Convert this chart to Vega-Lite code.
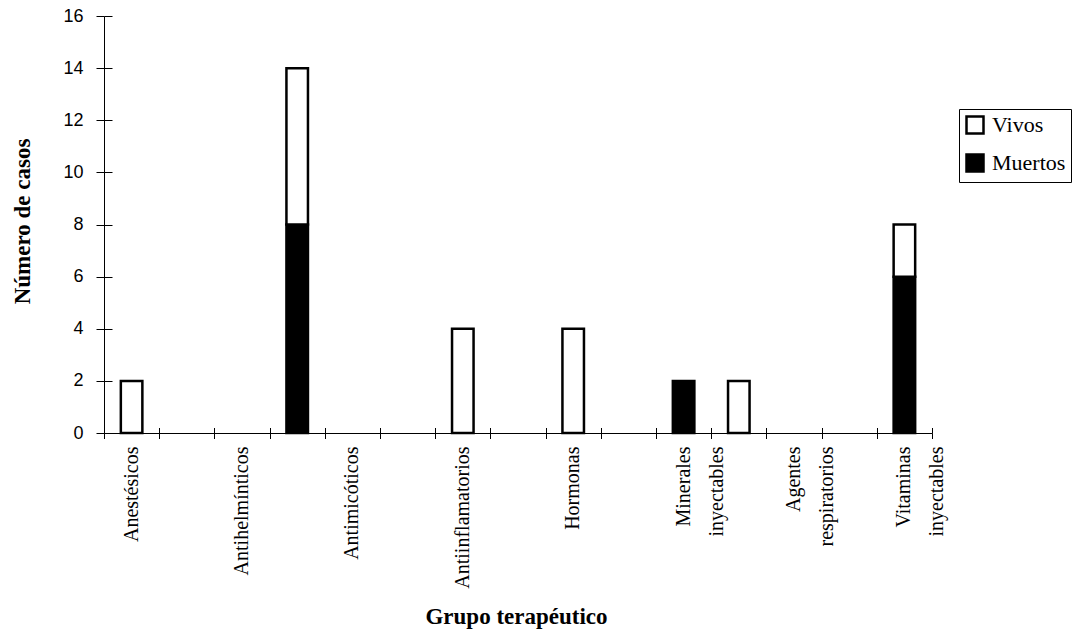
{
  "$schema": "https://vega.github.io/schema/vega-lite/v6.json",
  "width": 828,
  "height": 417,
  "autosize": {"type": "none"},
  "padding": {"left": 104, "top": 16, "right": 156, "bottom": 201},
  "background": "white",
  "config": {
    "view": {"stroke": null},
    "axis": {
      "domainColor": "black",
      "domainWidth": 1,
      "tickColor": "black",
      "tickWidth": 1,
      "labelColor": "black",
      "titleColor": "black",
      "grid": false
    }
  },
  "data": {
    "values": [
      {"grupo": "Anestésicos", "estado": "Vivos", "casos": 2},
      {"grupo": "Otro 2", "estado": "Muertos", "casos": 8},
      {"grupo": "Otro 2", "estado": "Vivos", "casos": 6},
      {"grupo": "Antiinflamatorios", "estado": "Vivos", "casos": 4},
      {"grupo": "Hormonas", "estado": "Vivos", "casos": 4},
      {"grupo": "Minerales inyectables", "estado": "Muertos", "casos": 2},
      {"grupo": "Otro 6", "estado": "Vivos", "casos": 2},
      {"grupo": "Vitaminas inyectables", "estado": "Muertos", "casos": 6},
      {"grupo": "Vitaminas inyectables", "estado": "Vivos", "casos": 2}
    ]
  },
  "layer": [
    {
      "mark": {"type": "bar", "stroke": "black", "strokeWidth": 2.5},
      "encoding": {
        "x": {
          "field": "grupo",
          "type": "nominal",
          "scale": {
            "domain": ["Anestésicos", "Otro 1", "Antihelmínticos", "Otro 2", "Antimicóticos", "Otro 3", "Antiinflamatorios", "Otro 4", "Hormonas", "Otro 5", "Minerales inyectables", "Otro 6", "Agentes respiratorios", "Otro 7", "Vitaminas inyectables"],
            "paddingInner": 0.61,
            "paddingOuter": 0.305
          },
          "axis": {
            "orient": "bottom",
            "title": "Grupo terapéutico",
            "titleFont": "Liberation Serif",
            "titleFontSize": 23,
            "titleFontWeight": "bold",
            "titleX": 412,
            "titleY": 190,
            "titleAlign": "center",
            "titleBaseline": "alphabetic",
            "ticks": false,
            "labelAngle": -90,
            "labelFont": "Liberation Serif",
            "labelFontSize": 20,
            "labelPadding": 13,
            "labelLineHeight": 33,
            "labelExpr": "isString(datum.value) && indexof(datum.value, 'Otro ') != 0 ? split(datum.value, ' ') : ''"
          }
        },
        "y": {
          "field": "casos",
          "type": "quantitative",
          "scale": {"domain": [0, 16], "nice": false},
          "axis": {
            "orient": "left",
            "values": [0, 2, 4, 6, 8, 10, 12, 14, 16],
            "tickSize": 8,
            "labelPadding": 13,
            "labelFont": "Liberation Sans",
            "labelFontSize": 18,
            "title": "Número de casos",
            "titleFont": "Liberation Serif",
            "titleFontSize": 23,
            "titleFontWeight": "bold",
            "titleAngle": -90,
            "titleX": -82,
            "titleY": 205,
            "titleAlign": "center",
            "titleBaseline": "middle"
          }
        },
        "color": {
          "field": "estado",
          "type": "nominal",
          "scale": {"domain": ["Vivos", "Muertos"], "range": ["white", "black"]},
          "legend": {
            "orient": "none",
            "legendX": 855,
            "legendY": 93,
            "title": null,
            "symbolType": "square",
            "symbolSize": 289,
            "symbolStrokeColor": "black",
            "symbolStrokeWidth": 2.5,
            "labelFont": "Liberation Serif",
            "labelFontSize": 22,
            "labelColor": "black",
            "labelOffset": 6,
            "rowPadding": 10,
            "padding": 5,
            "strokeColor": "black",
            "fillColor": "white"
          }
        },
        "order": {"field": "estado", "sort": "ascending"}
      }
    },
    {
      "mark": {"type": "bar", "opacity": 0},
      "encoding": {
        "x": {
          "field": "grupo",
          "type": "nominal",
          "axis": {
            "orient": "bottom",
            "title": null,
            "labels": false,
            "domain": false,
            "bandPosition": 0,
            "tickOffset": -16.836,
            "tickSize": 5.5
          }
        },
        "y": {
          "field": "casos",
          "type": "quantitative",
          "axis": {
            "orient": "left",
            "title": null,
            "labels": false,
            "domain": false,
            "values": [0, 2, 4, 6, 8, 10, 12, 14, 16],
            "tickSize": -8
          }
        }
      }
    },
    {
      "mark": {"type": "bar", "opacity": 0},
      "encoding": {
        "x": {
          "field": "grupo",
          "type": "nominal",
          "axis": {
            "orient": "bottom",
            "title": null,
            "labels": false,
            "domain": false,
            "bandPosition": 0,
            "tickOffset": -16.836,
            "tickSize": -5.5
          }
        },
        "y": {"field": "casos", "type": "quantitative", "axis": null}
      }
    },
    {
      "mark": {"type": "bar", "opacity": 0},
      "encoding": {
        "x": {
          "field": "grupo",
          "type": "nominal",
          "axis": {
            "orient": "bottom",
            "title": null,
            "labels": false,
            "domain": false,
            "bandPosition": 1,
            "tickOffset": 16.836,
            "tickSize": 5.5
          }
        },
        "y": {"field": "casos", "type": "quantitative", "axis": null}
      }
    },
    {
      "mark": {"type": "bar", "opacity": 0},
      "encoding": {
        "x": {
          "field": "grupo",
          "type": "nominal",
          "axis": {
            "orient": "bottom",
            "title": null,
            "labels": false,
            "domain": false,
            "bandPosition": 1,
            "tickOffset": 16.836,
            "tickSize": -5.5
          }
        },
        "y": {"field": "casos", "type": "quantitative", "axis": null}
      }
    }
  ],
  "resolve": {"axis": {"x": "independent", "y": "independent"}}
}
